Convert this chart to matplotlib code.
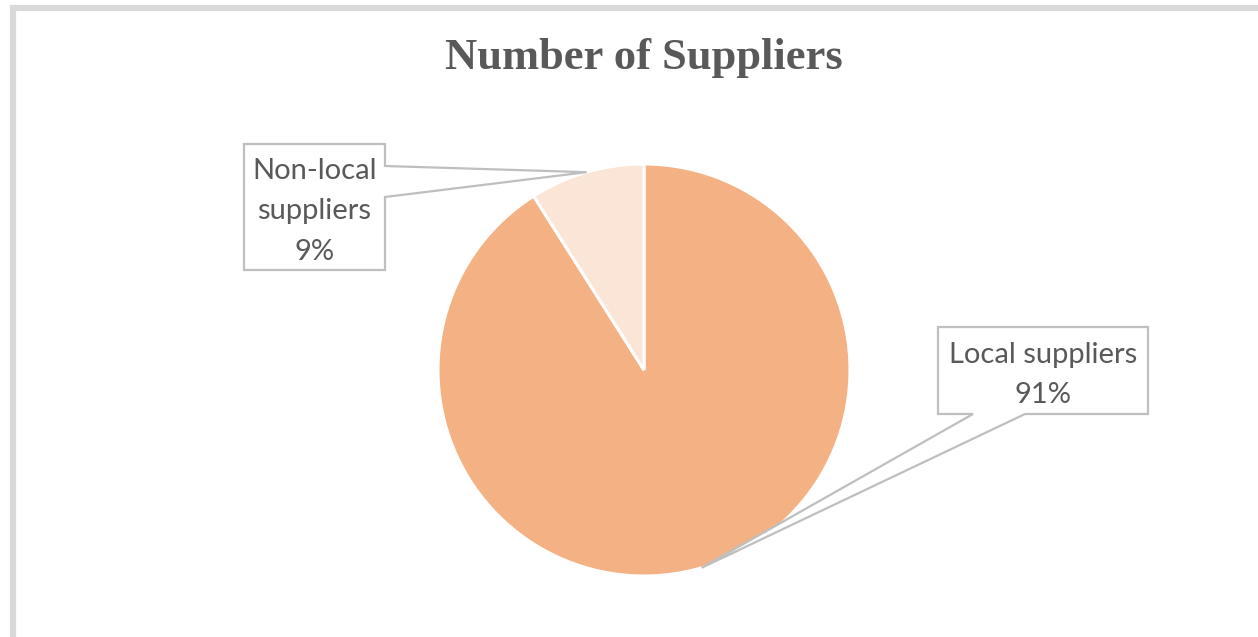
import matplotlib
matplotlib.use("Agg")
import matplotlib.pyplot as plt
from matplotlib.patches import Polygon, Rectangle
import numpy as np

categories = ["Local suppliers", "Non-local suppliers"]
shares = [91, 9]
label_texts = ["Local suppliers\n91%", "Non-local\nsuppliers\n9%"]
colors = ["#F4B183", "#FBE5D6"]
title = "Number of Suppliers"

W, H = 1258, 637
fig = plt.figure(figsize=(W / 100, H / 100), dpi=100)
fig.patch.set_facecolor("white")

# outer chart border (partially cropped)
fig.patches.append(Rectangle((13 / W, -0.2), 1.5, 1.2 - 8 / H, transform=fig.transFigure,
                             fill=False, edgecolor="#D9D9D9", linewidth=4.5, zorder=0))

ax = fig.add_axes([0, 0, 1, 1])
R = 206.0
cx, cy = 644.0, 370.0
wedges, _ = ax.pie(shares, colors=colors, startangle=90, counterclock=False,
                   radius=1.0, center=(0, 0),
                   wedgeprops=dict(edgecolor="white", linewidth=2.2))
ax.set_aspect("auto")
ax.set_xlim(-cx / R, (W - cx) / R)
ax.set_ylim(-(H - cy) / R, cy / R)
ax.axis("off")

def px(x, y):
    return ((x - cx) / R, (cy - y) / R)

text_color = "#595959"
edge = "#BFBFBF"

callouts = [
    dict(box=(938, 327, 1148, 414), base=[(973, 414), (1025, 414)], side="bottom"),
    dict(box=(244, 144, 385, 270), base=[(385, 166), (385, 197)], side="right"),
]

for w, txt, co in zip(wedges, label_texts, callouts):
    ang = np.deg2rad((w.theta1 + w.theta2) / 2)
    tip = (np.cos(ang), np.sin(ang))
    x0, y0, x1, y1 = co["box"]
    b1, b2 = co["base"]
    if co["side"] == "bottom":
        pts = [px(x0, y0), px(x1, y0), px(x1, y1), px(*b2), tip, px(*b1), px(x0, y1)]
    else:
        pts = [px(x0, y0), px(x1, y0), px(*b1), tip, px(*b2), px(x1, y1), px(x0, y1)]
    ax.add_patch(Polygon(pts, closed=True, facecolor="white", edgecolor=edge,
                         linewidth=1.6, zorder=5))
    tx, ty = px((x0 + x1) / 2, (y0 + y1) / 2 + 4.5)
    ax.text(tx, ty, txt, ha="center", va="center", fontsize=21, family="Lato",
            color=text_color, linespacing=1.68, zorder=6)

fig.text(643.5 / W, 1 - 58 / H, title, ha="center", va="center", fontsize=32,
         family="Liberation Serif", weight="bold", color=text_color)

fig.savefig("out.png", dpi=100)
